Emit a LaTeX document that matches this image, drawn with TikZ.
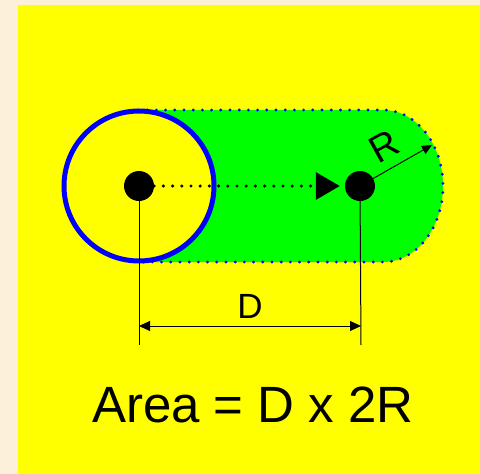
\documentclass[tikz,border=0pt]{standalone}
\usepackage{fontspec}
\setmainfont{Liberation Sans}
\usetikzlibrary{arrows.meta,positioning,calc}

\definecolor{paper}{HTML}{FDF0D8}
\definecolor{bgyellow}{HTML}{FFFF00}
\definecolor{sweep}{HTML}{00FF00}
\definecolor{rim}{HTML}{0000FF}

\begin{document}
\begin{tikzpicture}[x=1pt,y=-1pt,
	dot/.style={circle,fill=black,inner sep=0pt,minimum size=30pt},
	blueDots/.style={draw=rim,line width=3.2pt,line cap=round,dash pattern=on 0pt off 9.2pt},
	thinline/.style={line width=1pt},
	label/.style={inner sep=0pt}]
	\useasboundingbox (0,0) rectangle (480,474);
	\fill[paper] (0,0) rectangle (480,474);
	\fill[bgyellow] (18,5) rectangle (480,474);

	% swept region
	\fill[sweep] (138,110) -- (383,110) arc[start angle=90,end angle=-90,x radius=60pt,y radius=76pt] -- (138,262) -- cycle;
	\draw[blueDots] (138,110) -- (383,110) arc[start angle=90,end angle=-90,x radius=60pt,y radius=76pt] -- (138,262);

	% coin
	\filldraw[fill=bgyellow,draw=rim,line width=5pt] (139,186) circle[radius=75pt];

	\node[dot] (start) at (139,186) {};
	\node[dot] (finish) at (360,186) {};

	\coordinate (startfoot) at (139,345);
	\coordinate (finishfoot) at (361,345);
	\coordinate (dimL) at (139,326);
	\coordinate (dimR) at (361,326);
	\coordinate (rtip) at (432,145);

	\draw[line width=3.4pt,line cap=round,dash pattern=on 0pt off 9.2pt,
		-{Triangle[length=24pt,width=27pt,line cap=butt,sep=0pt]},shorten >=5pt] (start) -- (finish);
	\draw[thinline,-{Triangle[length=10pt,width=9pt]}] (finish) -- (rtip);
	\node[label,rotate=29,font=\fontsize{38}{40}\selectfont] (rlabel) at (384,146) {R};

	\draw[thinline] (start) -- (startfoot);
	\draw[thinline] (finish) -- (finishfoot);
	\draw[thinline,{Triangle[length=11pt,width=10pt]}-{Triangle[length=11pt,width=10pt]}] (dimL) -- (dimR);
	\node[label,font=\fontsize{35}{38}\selectfont] (dlabel) at (250,306) {D};

	\node[label,font=\fontsize{51}{56}\selectfont] (area) at (253,405) {Area = D x 2R};
\end{tikzpicture}
\end{document}
